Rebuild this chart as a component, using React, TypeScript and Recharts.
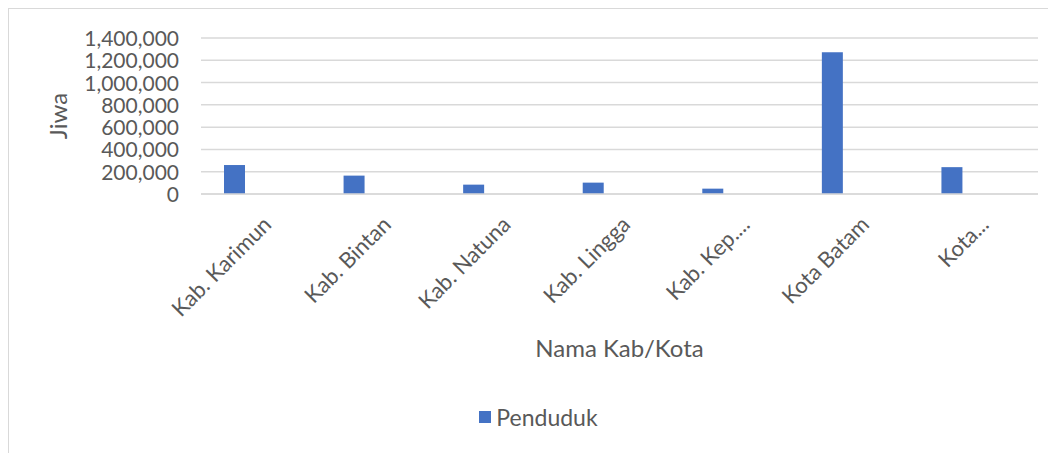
import { BarChart, Bar, XAxis, YAxis, CartesianGrid, Legend } from 'recharts'

const categories = [
  'Kab. Karimun',
  'Kab. Bintan',
  'Kab. Natuna',
  'Kab. Lingga',
  'Kab. Kep....',
  'Kota Batam',
  'Kota...',
]

const penduduk = [260000, 165000, 84000, 102000, 48000, 1272000, 241000]

const yTicks = [0, 200000, 400000, 600000, 800000, 1000000, 1200000, 1400000]

const data = categories.map((name, i) => ({
  name,
  penduduk: penduduk[i],
  kosong: null,
}))

const FONT = 'Lato, "Open Sans", sans-serif'
const TEXT = '#595959'
const BLUE = '#4472C4'

function XTick(props: any) {
  const { x, y, payload } = props
  return (
    <text
      transform={`translate(${x + 12},${y + 24}) rotate(-45)`}
      textAnchor="end"
      fontSize={22}
      fontFamily={FONT}
      fill={TEXT}
    >
      {payload.value}
    </text>
  )
}

function YTick(props: any) {
  const { x, y, payload } = props
  return (
    <text x={x} y={y} dy={8} textAnchor="end" fontSize={21} fontFamily={FONT} fill={TEXT}>
      {payload.value.toLocaleString('en-US')}
    </text>
  )
}

function YTitle(props: any) {
  const { viewBox } = props
  const cy = viewBox.y + viewBox.height / 2
  return (
    <text
      transform={`translate(${58},${cy}) rotate(-90)`}
      textAnchor="middle"
      fontSize={24}
      fontFamily={FONT}
      fill={TEXT}
    >
      Jiwa
    </text>
  )
}

function LegendBox() {
  return (
    <div style={{ display: 'flex', justifyContent: 'center', alignItems: 'center', fontFamily: FONT, paddingLeft: 30 }}>
      <span style={{ width: 12, height: 12, background: BLUE, display: 'inline-block', marginRight: 5 }} />
      <span style={{ fontSize: 23, color: TEXT }}>Penduduk</span>
    </div>
  )
}

export default function App() {
  return (
    <div
      style={{
        width: 1048,
        height: 445,
        borderTop: '1px solid #d9d9d9',
        borderLeft: '1px solid #d9d9d9',
        boxSizing: 'border-box',
        background: '#fff',
      }}
    >
      <BarChart
        width={1047}
        height={444}
        data={data}
        margin={{ top: 29, right: 18, bottom: 20, left: 0 }}
        barGap={31}
        barSize={21}
      >
        <CartesianGrid vertical={false} stroke="#d9d9d9" strokeWidth={1.5} />
        <XAxis
          dataKey="name"
          tick={<XTick />}
          tickLine={false}
          axisLine={{ stroke: '#d9d9d9', strokeWidth: 1.5 }}
          interval={0}
          height={209}
          label={{
            value: 'Nama Kab/Kota',
            position: 'insideBottom',
            offset: 46,
            fontSize: 24,
            fontFamily: FONT,
            fill: TEXT,
          }}
        />
        <YAxis
          width={192}
          domain={[0, 1400000]}
          ticks={yTicks}
          interval={0}
          tick={<YTick />}
          tickLine={false}
          axisLine={false}
          tickSize={0}
          tickMargin={22}
          label={<YTitle />}
        />
        <Legend verticalAlign="bottom" height={30} content={<LegendBox />} />
        <Bar dataKey="penduduk" name="Penduduk" fill={BLUE} isAnimationActive={false} />
        <Bar dataKey="kosong" legendType="none" fill="#ED7D31" isAnimationActive={false} />
      </BarChart>
    </div>
  )
}
